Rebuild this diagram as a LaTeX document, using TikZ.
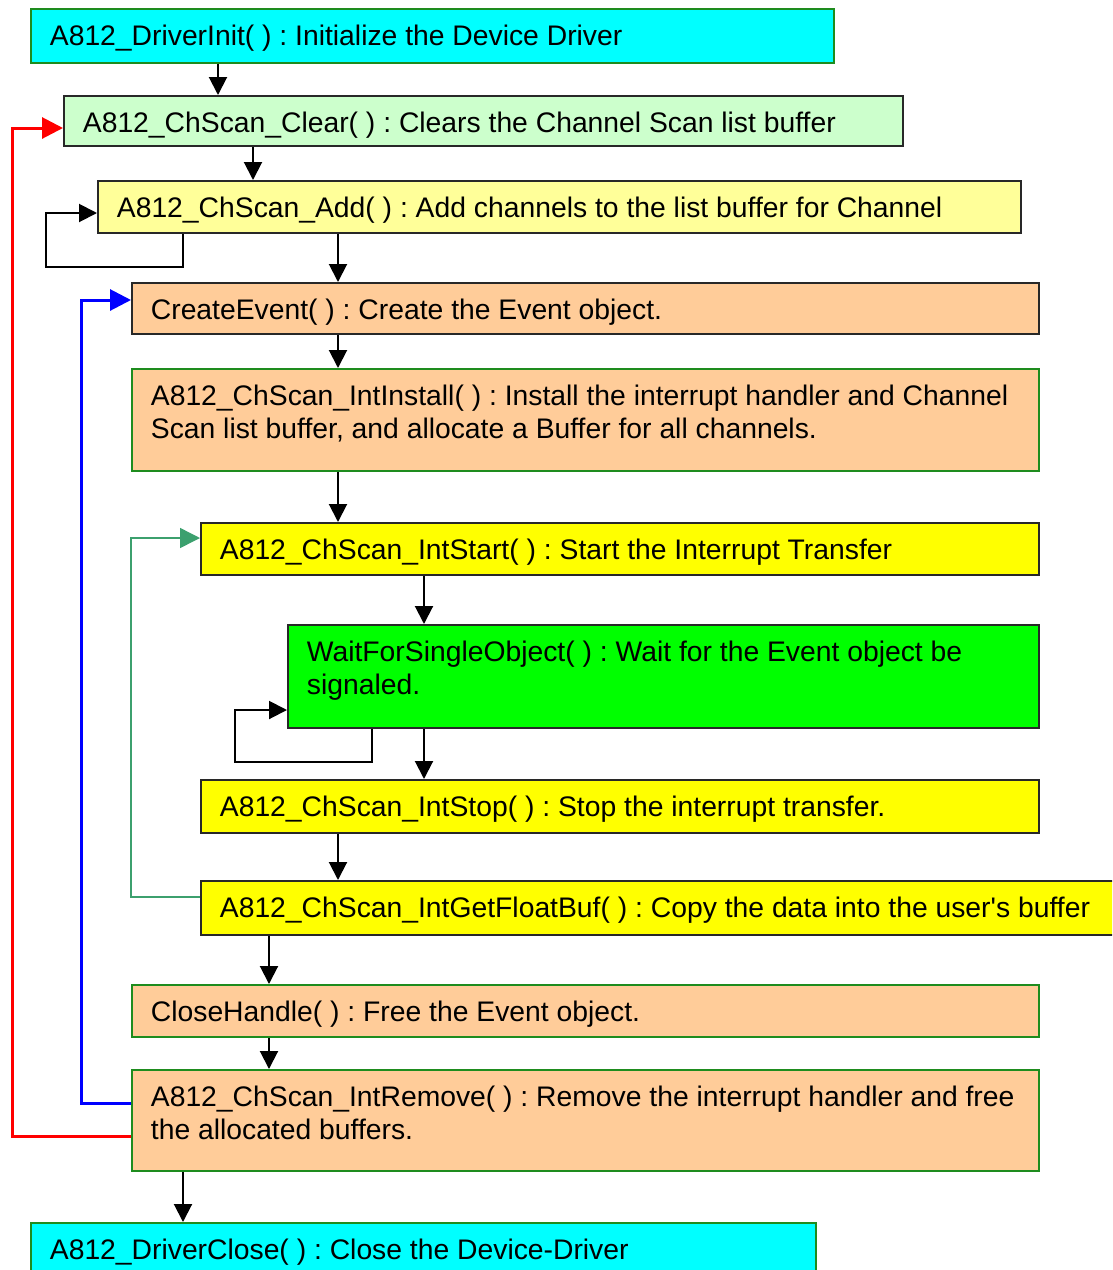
\documentclass[tikz,border=0pt]{standalone}
\usepackage{fontspec}
\setmainfont{Liberation Sans}[Ligatures=TeXOff]
\usetikzlibrary{arrows.meta}
\definecolor{bcyan}{RGB}{0,255,255}
\definecolor{bltgreen}{RGB}{204,255,204}
\definecolor{bltyellow}{RGB}{255,255,153}
\definecolor{bpeach}{RGB}{255,204,153}
\definecolor{byellow}{RGB}{255,255,0}
\definecolor{bgreen}{RGB}{0,255,0}
\definecolor{gborder}{RGB}{30,140,30}
\definecolor{dborder}{RGB}{40,40,40}
\definecolor{loopgreen}{RGB}{60,160,110}
\newcommand{\boxtxt}[3]{\parbox[c][#2][t]{#1}{\frenchspacing\raggedright\rule{0pt}{37pt}#3}}
\begin{document}
\begin{tikzpicture}[x=1pt,y=-1pt,
  box/.style={draw, line width=1.8pt, inner xsep=19pt, inner ysep=0pt, anchor=north west,
    font=\fontsize{28.3pt}{32.5pt}\selectfont, text=black},
  gbox/.style={box, draw=gborder},
  dbox/.style={box, draw=dborder},
  arr/.style={line width=2pt, -{Triangle[length=18pt,width=18pt]}},
  redline/.style={draw=red, line width=3pt, -{Triangle[length=21pt,width=21pt]}},
  blueline/.style={draw=blue, line width=3pt, -{Triangle[length=21pt,width=21pt]}},
  greenline/.style={draw=loopgreen, line width=1.5pt, -{Triangle[length=20pt,width=20pt]}}
]
\fill[white] (0,0) rectangle (1112,1270);
\clip (0,0) rectangle (1112,1270);

\node[gbox, fill=bcyan] (init) at (30,8) {\boxtxt{765pt}{54pt}{\mbox{A812\_DriverInit( ) : Initialize the Device Driver}}};
\node[dbox, fill=bltgreen] (clear) at (63,95) {\boxtxt{801pt}{50pt}{\mbox{A812\_ChScan\_Clear( ) : Clears the Channel Scan list buffer}}};
\node[dbox, fill=bltyellow] (add) at (97,180) {\boxtxt{885pt}{52pt}{\mbox{A812\_ChScan\_Add( ) : Add channels to the list buffer for Channel}}};
\node[dbox, fill=bpeach] (create) at (131,282) {\boxtxt{869pt}{51pt}{\mbox{CreateEvent( ) : Create the Event object.}}};
\node[gbox, fill=bpeach] (install) at (131,368) {\boxtxt{869pt}{102pt}{\mbox{A812\_ChScan\_IntInstall( ) : Install the interrupt handler and Channel}\\\mbox{Scan list buffer, and allocate a Buffer for all channels.}}};
\node[dbox, fill=byellow] (start) at (200,522) {\boxtxt{800pt}{52pt}{\mbox{A812\_ChScan\_IntStart( ) : Start the Interrupt Transfer}}};
\node[dbox, fill=bgreen] (wait) at (287,624) {\boxtxt{713pt}{103pt}{\mbox{WaitForSingleObject( ) : Wait for the Event object be}\\\mbox{signaled.}}};
\node[dbox, fill=byellow] (stop) at (200,779) {\boxtxt{800pt}{53pt}{\mbox{A812\_ChScan\_IntStop( ) : Stop the interrupt transfer.}}};
\node[dbox, fill=byellow] (getbuf) at (200,880) {\boxtxt{912pt}{54pt}{\mbox{A812\_ChScan\_IntGetFloatBuf( ) : Copy the data into the user's buffer}}};
\node[gbox, fill=bpeach] (close) at (131,984) {\boxtxt{869pt}{52pt}{\mbox{CloseHandle( ) : Free the Event object.}}};
\node[gbox, fill=bpeach] (remove) at (131,1069) {\boxtxt{869pt}{101pt}{\mbox{A812\_ChScan\_IntRemove( ) : Remove the interrupt handler and free}\\\mbox{the allocated buffers.}}};
\node[gbox, fill=bcyan] (dclose) at (30,1222) {\boxtxt{747pt}{70pt}{\mbox{A812\_DriverClose( ) : Close the Device-Driver}}};

% straight connectors
\draw[arr] ([xshift=188pt]init.south west) -- ([xshift=155pt]clear.north west);
\draw[arr] ([xshift=190pt]clear.south west) -- ([xshift=156pt]add.north west);
\draw[arr] ([xshift=241pt]add.south west) -- ([xshift=207pt]create.north west);
\draw[arr] ([xshift=207pt]create.south west) -- ([xshift=207pt]install.north west);
\draw[arr] ([xshift=207pt]install.south west) -- ([xshift=138pt]start.north west);
\draw[arr] ([xshift=224pt]start.south west) -- ([xshift=137pt]wait.north west);
\draw[arr] ([xshift=137pt]wait.south west) -- ([xshift=224pt]stop.north west);
\draw[arr] ([xshift=138pt]stop.south west) -- ([xshift=138pt]getbuf.north west);
\draw[arr] ([xshift=69pt]getbuf.south west) -- ([xshift=138pt]close.north west);
\draw[arr] ([xshift=138pt]close.south west) -- ([xshift=138pt]remove.north west);
\draw[arr] ([xshift=52pt]remove.south west) -- ([xshift=153pt]dclose.north west);

% self loops
\draw[arr] ([xshift=86pt]add.south west) -- ++(0,33) -- ++(-137,0) |- ([yshift=-33pt]add.north west);
\draw[arr] ([xshift=85pt]wait.south west) -- ++(0,33) -- ++(-137,0) |- ([yshift=-86pt]wait.north west);

% feedback loops
\draw[greenline] ([yshift=-17pt]getbuf.north west) -- ++(-69,0) |- ([yshift=-16pt]start.north west);
\draw[blueline] ([yshift=-34pt]remove.north west) -- ++(-50,0) |- ([yshift=-18pt]create.north west);
\draw[redline] ([yshift=-67pt]remove.north west) -- ++(-119,0) |- ([yshift=-33pt]clear.north west);
\end{tikzpicture}
\end{document}
